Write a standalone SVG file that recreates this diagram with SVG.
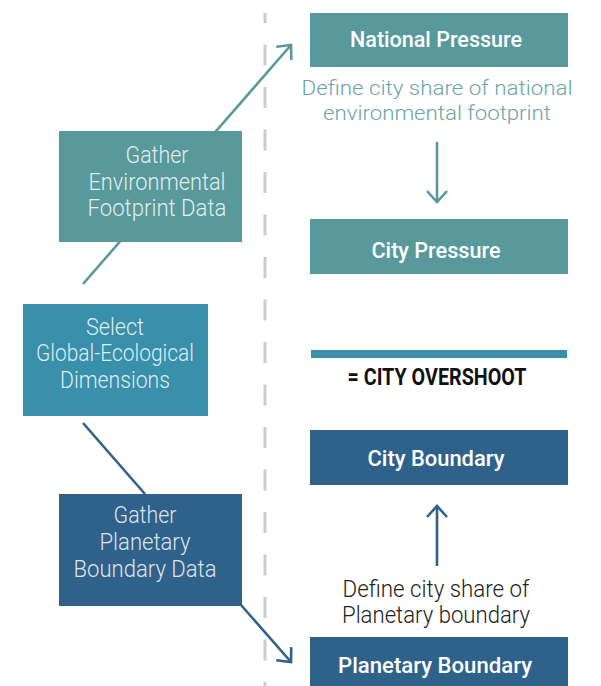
<svg xmlns="http://www.w3.org/2000/svg" width="601" height="686" viewBox="0 0 601 686">
<style>
.t{font-family:Roboto,"Liberation Sans",sans-serif;}
.lt{font-family:Roboto,"Liberation Sans",sans-serif;font-weight:300;font-size:23px;fill:#ffffff;fill-opacity:0.85;text-anchor:middle;}
.hd{font-family:Roboto,"Liberation Sans",sans-serif;font-weight:500;font-size:22px;fill:#ffffff;text-anchor:middle;}
.teal{fill:#589a9c;}
.sel{fill:#3990ab;}
.blue{fill:#2f628b;}
.cn{fill:none;stroke-width:2.6;}
</style>
<defs>
<marker id="ahT" viewBox="-14 -14 28 28" markerWidth="28" markerHeight="28" refX="0" refY="0" orient="auto" markerUnits="userSpaceOnUse">
<path d="M-11,-10 L0,0 L-11,10" fill="none" stroke="#589a9c" stroke-width="2.6"/>
</marker>
<marker id="ahB" viewBox="-14 -14 28 28" markerWidth="28" markerHeight="28" refX="0" refY="0" orient="auto" markerUnits="userSpaceOnUse">
<path d="M-11,-10 L0,0 L-11,10" fill="none" stroke="#2f628b" stroke-width="2.6"/>
</marker>
</defs>
<rect width="601" height="686" fill="#ffffff"/>
<line x1="265" y1="13" x2="265" y2="686" stroke="#cccccc" stroke-width="3" stroke-dasharray="21 21.5" stroke-dashoffset="11"/>
<g id="connectors">
<line class="cn" x1="83" y1="284" x2="291" y2="45" stroke="#589a9c" marker-end="url(#ahT)"/>
<line class="cn" x1="83" y1="423" x2="145" y2="494" stroke="#2f628b"/>
<line class="cn" x1="241" y1="605" x2="291" y2="662" stroke="#2f628b" marker-end="url(#ahB)"/>
<line class="cn" x1="437" y1="142" x2="437" y2="202" stroke="#589a9c" marker-end="url(#ahT)"/>
<line class="cn" x1="437" y1="566" x2="437" y2="506" stroke="#2f628b" marker-end="url(#ahB)"/>
</g>
<g id="gather-env">
<rect class="teal" x="59" y="131" width="183" height="111"/>
<text class="lt" x="157" y="163" textLength="63" lengthAdjust="spacingAndGlyphs">Gather</text>
<text class="lt" x="157" y="190" textLength="137" lengthAdjust="spacingAndGlyphs">Environmental</text>
<text class="lt" x="157" y="216" textLength="139" lengthAdjust="spacingAndGlyphs">Footprint Data</text>
</g>
<g id="select">
<rect class="sel" x="23" y="304" width="185" height="112"/>
<text class="lt" x="115" y="335" textLength="58" lengthAdjust="spacingAndGlyphs">Select</text>
<text class="lt" x="115" y="361" textLength="158" lengthAdjust="spacingAndGlyphs">Global-Ecological</text>
<text class="lt" x="115" y="388" textLength="110" lengthAdjust="spacingAndGlyphs">Dimensions</text>
</g>
<g id="gather-pb">
<rect class="blue" x="59" y="494" width="183" height="112"/>
<text class="lt" x="145" y="523" textLength="63" lengthAdjust="spacingAndGlyphs">Gather</text>
<text class="lt" x="145" y="550" textLength="91" lengthAdjust="spacingAndGlyphs">Planetary</text>
<text class="lt" x="145" y="577" textLength="143" lengthAdjust="spacingAndGlyphs">Boundary Data</text>
</g>
<g id="national-pressure">
<rect class="teal" x="310" y="13" width="258" height="54"/>
<text class="hd" x="436" y="47" textLength="172" lengthAdjust="spacingAndGlyphs">National Pressure</text>
</g>
<g id="define-national">
<text class="t" x="437" y="95" font-size="21" font-weight="300" fill="#6aa5a7" text-anchor="middle" textLength="271" lengthAdjust="spacingAndGlyphs">Define city share of national</text>
<text class="t" x="437" y="120" font-size="21" font-weight="300" fill="#6aa5a7" text-anchor="middle" textLength="228" lengthAdjust="spacingAndGlyphs">environmental footprint</text>
</g>
<g id="city-pressure">
<rect class="teal" x="310" y="219" width="258" height="55"/>
<text class="hd" x="436" y="258" textLength="129" lengthAdjust="spacingAndGlyphs">City Pressure</text>
</g>
<g id="overshoot">
<rect x="311" y="350" width="256" height="8" fill="#3990ab"/>
<text class="t" x="437" y="385" font-size="23" font-weight="700" fill="#111111" text-anchor="middle" textLength="179" lengthAdjust="spacingAndGlyphs">= CITY OVERSHOOT</text>
</g>
<g id="city-boundary">
<rect class="blue" x="310" y="430" width="258" height="55"/>
<text class="hd" x="436" y="466" textLength="137" lengthAdjust="spacingAndGlyphs">City Boundary</text>
</g>
<g id="define-planetary">
<text class="t" x="436" y="597" font-size="23" font-weight="300" fill="#222222" text-anchor="middle" textLength="187" lengthAdjust="spacingAndGlyphs">Define city share of</text>
<text class="t" x="436" y="623" font-size="23" font-weight="300" fill="#222222" text-anchor="middle" textLength="188" lengthAdjust="spacingAndGlyphs">Planetary boundary</text>
</g>
<g id="planetary-boundary">
<rect class="blue" x="310" y="637" width="258" height="49"/>
<text class="hd" x="435" y="673" textLength="194" lengthAdjust="spacingAndGlyphs">Planetary Boundary</text>
</g>
</svg>
